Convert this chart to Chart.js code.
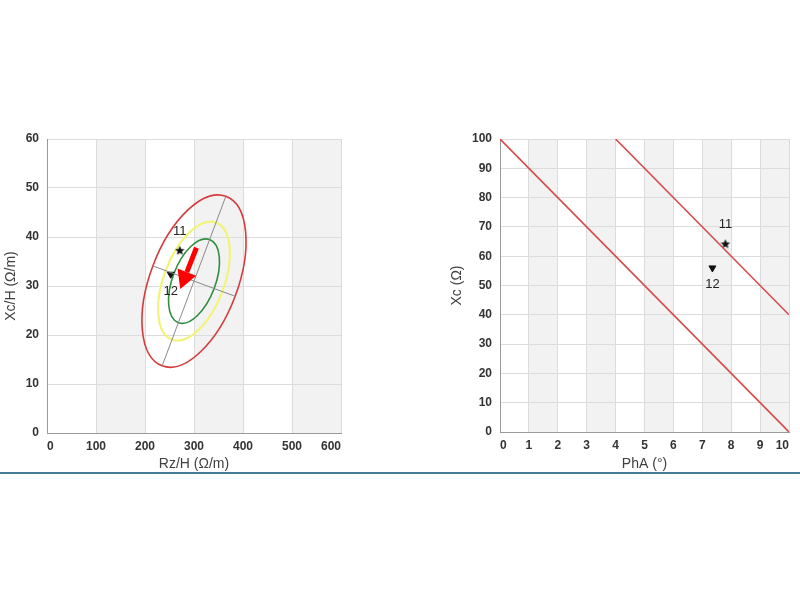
<!DOCTYPE html>
<html>
<head>
<meta charset="utf-8">
<script src="https://cdn.jsdelivr.net/npm/chart.js@4.4.1/dist/chart.umd.min.js"></script>
<style>
  html, body { margin: 0; padding: 0; background: #fff; }
  body { width: 800px; height: 600px; position: relative; overflow: hidden; }
  .box { position: absolute; top: 120px; width: 360px; height: 360px; }
  #left-box { left: 0; }
  #right-box { left: 440px; }
  .rule { position: absolute; left: 0; top: 472px; width: 800px; height: 2px; background: #417d97; }
</style>
</head>
<body>
<div class="box" id="left-box"><canvas id="biva-chart" width="360" height="360"></canvas></div>
<div class="box" id="right-box"><canvas id="pha-chart" width="360" height="360"></canvas></div>
<div class="rule"></div>
<script>
// --- left chart: Rz/H vs Xc/H ---
const rzRange = [0, 600];
const xcHRange = [0, 60];
const rzShaded = [[100, 200], [300, 400], [500, 600]];
const majorAxisRz = [235, 365];
const majorAxisXc = [13.7, 48.3];
const minorAxisRz = [216, 384];
const minorAxisXc = [34.1, 27.9];
const ellipseScale = [1, 0.69, 0.49];          // 95%, 75%, 50%
const pointNames = ['11', '12'];
const leftRz = [271, 252.5];
const leftXc = [37.3, 32.4];
const arrowRz = [305, 272];
const arrowXc = [37.8, 29.4];

// --- right chart: PhA vs Xc ---
const phaRange = [0, 10];
const xcRange = [0, 100];
const phaShaded = [[1, 2], [3, 4], [5, 6], [7, 8], [9, 10]];
const line1Pha = [0, 10];
const line1Xc = [100, 0];
const line2Pha = [4, 10];
const line2Xc = [100, 40];
const rightPha = [7.8, 7.35];
const rightXc = [64.3, 56];

const FONT = "'Liberation Sans', Arial, sans-serif";
const ellipseColors = ['#d63a3a', '#f3f37c', '#2f8f3c'];

const toPoints = (xs, ys) => xs.map((x, i) => ({ x: x, y: ys[i] }));

// filled five point star for point 11
function makeStar(size) {
    const c = document.createElement('canvas');
    c.width = size; c.height = size;
    const g = c.getContext('2d');
    const r = size / 2, ri = r * 0.45;
    g.beginPath();
    for (let i = 0; i < 10; i++) {
        const rad = i % 2 ? ri : r;
        const a = -Math.PI / 2 + i * Math.PI / 5;
        g.lineTo(r + rad * Math.cos(a), r + rad * Math.sin(a) + 0.5);
    }
    g.closePath();
    g.fillStyle = '#111';
    g.fill();
    return c;
}
const starImg = makeStar(10);

// shaded vertical bands behind grid
const bandsPlugin = {
    id: 'bands',
    beforeDraw(chart, args, opts) {
        const { ctx, chartArea, scales } = chart;
        ctx.save();
        ctx.fillStyle = '#f2f2f2';
        (opts.ranges || []).forEach(([a, b]) => {
            const x1 = scales.x.getPixelForValue(a);
            const x2 = scales.x.getPixelForValue(b);
            ctx.fillRect(x1, chartArea.top, x2 - x1, chartArea.bottom - chartArea.top);
        });
        ctx.restore();
    }
};

// tolerance ellipses from the axis end points
const ellipsePlugin = {
    id: 'ellipses',
    beforeDatasetsDraw(chart) {
        const { ctx, scales } = chart;
        const px = v => scales.x.getPixelForValue(v);
        const py = v => scales.y.getPixelForValue(v);
        const cx = (px(majorAxisRz[0]) + px(majorAxisRz[1])) / 2;
        const cy = (py(majorAxisXc[0]) + py(majorAxisXc[1])) / 2;
        const ux = px(majorAxisRz[1]) - cx, uy = py(majorAxisXc[1]) - cy;
        const vx = px(minorAxisRz[1]) - cx, vy = py(minorAxisXc[1]) - cy;
        const widths = [1.6, 2.2, 1.6];
        ctx.save();
        ellipseScale.forEach((s, i) => {
            ctx.save();
            ctx.transform(ux, uy, vx, vy, cx, cy);
            ctx.beginPath();
            ctx.arc(0, 0, s, 0, Math.PI * 2);
            ctx.restore();
            ctx.strokeStyle = ellipseColors[i];
            ctx.lineWidth = widths[i];
            ctx.stroke();
        });
        ctx.restore();
    }
};

// red vector arrow
const arrowPlugin = {
    id: 'arrow',
    afterDatasetsDraw(chart) {
        const { ctx, scales } = chart;
        const x0 = scales.x.getPixelForValue(arrowRz[0]), y0 = scales.y.getPixelForValue(arrowXc[0]);
        const x1 = scales.x.getPixelForValue(arrowRz[1]), y1 = scales.y.getPixelForValue(arrowXc[1]);
        const ang = Math.atan2(y1 - y0, x1 - x0);
        const headLen = 18, headHalf = 10;
        const bx = x1 - headLen * Math.cos(ang), by = y1 - headLen * Math.sin(ang);
        ctx.save();
        ctx.strokeStyle = '#ff0000';
        ctx.fillStyle = '#ff0000';
        ctx.lineWidth = 5;
        ctx.beginPath();
        ctx.moveTo(x0, y0);
        ctx.lineTo(bx, by);
        ctx.stroke();
        ctx.beginPath();
        ctx.moveTo(x1, y1);
        ctx.lineTo(bx + headHalf * Math.sin(ang), by - headHalf * Math.cos(ang));
        ctx.lineTo(bx - headHalf * Math.sin(ang), by + headHalf * Math.cos(ang));
        ctx.closePath();
        ctx.fill();
        ctx.restore();
    }
};

// "11" above, "12" below the measured points
const labelsPlugin = {
    id: 'pointNames',
    afterDatasetsDraw(chart) {
        const { ctx } = chart;
        chart.data.datasets.forEach((ds, di) => {
            if (!ds.pointNames) return;
            const meta = chart.getDatasetMeta(di);
            ctx.save();
            ctx.font = '13px ' + FONT;
            ctx.fillStyle = '#222';
            ctx.textAlign = 'center';
            ctx.textBaseline = 'middle';
            meta.data.forEach((el, i) => {
                ctx.fillText(ds.pointNames[i], el.x, el.y + ds.nameOffsets[i]);
            });
            ctx.restore();
        });
    }
};

function axis(range, step, title, fit) {
    return {
        type: 'linear',
        min: range[0],
        max: range[1],
        ticks: {
            stepSize: step,
            color: '#333',
            font: { family: FONT, size: 12, weight: 'bold' },
            padding: fit.tickPad,
            align: fit.align || 'center'
        },
        grid: { color: '#dcdcdc', drawTicks: false },
        border: { color: '#9a9a9a' },
        title: {
            display: true,
            text: title,
            color: '#404040',
            font: { family: FONT, size: 14 },
            padding: fit.titlePad
        },
        afterFit(scale) {
            if (fit.width) scale.width = fit.width;
            if (fit.height) scale.height = fit.height;
        }
    };
}

const baseOptions = {
    responsive: false,
    animation: false,
    events: [],
    plugins: { legend: { display: false }, tooltip: { enabled: false } }
};

new Chart(document.getElementById('biva-chart'), {
    type: 'scatter',
    data: {
        datasets: [
            { data: toPoints(majorAxisRz, majorAxisXc), showLine: true, borderColor: '#8a8a8a', borderWidth: 1, pointRadius: 0 },
            { data: toPoints(minorAxisRz, minorAxisXc), showLine: true, borderColor: '#8a8a8a', borderWidth: 1, pointRadius: 0 },
            {
                data: toPoints(leftRz, leftXc),
                pointStyle: [starImg, 'triangle'],
                rotation: [0, 180],
                pointRadius: 4,
                backgroundColor: '#111',
                borderColor: '#111',
                borderWidth: 1,
                pointNames: pointNames,
                nameOffsets: [-19, 17]
            }
        ]
    },
    options: Object.assign({}, baseOptions, {
        layout: { padding: { top: 19, right: 19, left: 0, bottom: 0 } },
        plugins: Object.assign({}, baseOptions.plugins, { bands: { ranges: rzShaded } }),
        scales: {
            x: axis(rzRange, 100, 'Rz/H (Ω/m)', { height: 47, tickPad: 6, titlePad: { top: 0, bottom: 7.5 }, align: 'inner' }),
            y: axis(xcHRange, 10, 'Xc/H (Ω/m)', { width: 47, tickPad: 8, titlePad: { top: 3, bottom: 0 } })
        }
    }),
    plugins: [bandsPlugin, ellipsePlugin, arrowPlugin, labelsPlugin]
});

new Chart(document.getElementById('pha-chart'), {
    type: 'scatter',
    data: {
        datasets: [
            { data: toPoints(line1Pha, line1Xc), showLine: true, borderColor: '#d84a4a', borderWidth: 1.6, pointRadius: 0 },
            { data: toPoints(line2Pha, line2Xc), showLine: true, borderColor: '#d84a4a', borderWidth: 1.6, pointRadius: 0 },
            {
                data: toPoints(rightPha, rightXc),
                pointStyle: [starImg, 'triangle'],
                rotation: [0, 180],
                pointRadius: 4,
                backgroundColor: '#111',
                borderColor: '#111',
                borderWidth: 1,
                pointNames: pointNames,
                nameOffsets: [-19, 17]
            }
        ]
    },
    options: Object.assign({}, baseOptions, {
        layout: { padding: { top: 19, right: 11, left: 0, bottom: 0 } },
        plugins: Object.assign({}, baseOptions.plugins, { bands: { ranges: phaShaded } }),
        scales: {
            x: axis(phaRange, 1, 'PhA (°)', { height: 48, tickPad: 6, titlePad: { top: 0, bottom: 7.5 }, align: 'inner' }),
            y: axis(xcRange, 10, 'Xc (Ω)', { width: 60, tickPad: 8, titlePad: { top: 9, bottom: 0 } })
        }
    }),
    plugins: [bandsPlugin, labelsPlugin]
});
</script>
</body>
</html>
